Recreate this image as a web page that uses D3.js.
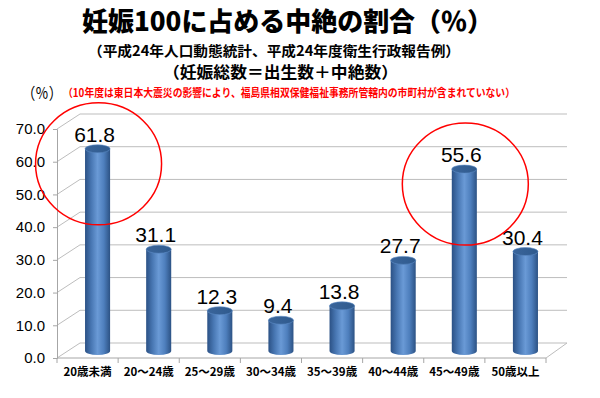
<!DOCTYPE html>
<html>
<head>
<meta charset="utf-8">
<script src="https://cdn.jsdelivr.net/npm/d3@7"></script>
<style>
  body { margin: 0; background: #fff; }
  svg { display: block; }
</style>
</head>
<body>
<div id="chart"></div>
<script>
// data
const categories = ["20歳未満", "20～24歳", "25～29歳", "30～34歳", "35～39歳", "40～44歳", "45～49歳", "50歳以上"];
const values = [61.8, 31.1, 12.3, 9.4, 13.8, 27.7, 55.6, 30.4];
const yTicks = [0, 10, 20, 30, 40, 50, 60, 70];
const circled = ["20歳未満", "45～49歳"];

const width = 600, height = 398;
const depth = { dx: 23, dy: -15 };   // back wall offset
const mid = { dx: 10, dy: -7 };      // where bars stand

const svg = d3.select("#chart").append("svg")
  .attr("width", width).attr("height", height);

const x = d3.scaleBand().domain(categories).range([57, 546]);
const y = d3.scaleLinear().domain([0, 70]).range([358, 129]);

const defs = svg.append("defs");
const g1 = defs.append("linearGradient").attr("id", "body").attr("x1", 0).attr("x2", 1);
[[0, "#2b5185"], [0.25, "#4877b3"], [0.5, "#6a9ad6"], [0.75, "#4e7fbd"], [1, "#2c5284"]]
  .forEach(([o, c]) => g1.append("stop").attr("offset", o).attr("stop-color", c));
const g2 = defs.append("linearGradient").attr("id", "top").attr("x1", 0).attr("x2", 1);
[[0, "#3a659b"], [1, "#2f5a8d"]]
  .forEach(([o, c]) => g2.append("stop").attr("offset", o).attr("stop-color", c));

// back wall gridlines + left wall diagonals
const grid = svg.append("g");
grid.selectAll(".gl").data(yTicks).join("line")
  .attr("x1", 57 + depth.dx).attr("x2", 567)
  .attr("y1", d => y(d) + depth.dy).attr("y2", d => y(d) + depth.dy)
  .attr("stroke", "#bdbdbd").attr("stroke-width", 1);
grid.selectAll(".dg").data(yTicks).join("line")
  .attr("x1", 57).attr("x2", 57 + depth.dx)
  .attr("y1", d => y(d)).attr("y2", d => y(d) + depth.dy)
  .attr("stroke", "#bdbdbd");

// floor front edge and right edge
grid.append("line").attr("x1", 57).attr("x2", 546).attr("y1", y(0)).attr("y2", y(0)).attr("stroke", "#a6a6a6");
grid.append("line").attr("x1", 546).attr("x2", 546 + depth.dx - 2).attr("y1", y(0)).attr("y2", y(0) + depth.dy).attr("stroke", "#bdbdbd");

// front vertical axis
const yAxis = svg.append("g").attr("transform", "translate(57,0)")
  .call(d3.axisLeft(y).tickValues(yTicks).tickSize(4).tickPadding(8).tickFormat(d3.format(".1f")));
yAxis.select(".domain").attr("stroke", "#a6a6a6");
yAxis.selectAll(".tick line").attr("stroke", "#a6a6a6");
yAxis.selectAll("text").attr("font-family", "Liberation Sans, Arial, sans-serif")
  .attr("font-size", 15).attr("fill", "#000");

// category axis
const xAxis = svg.append("g").attr("transform", `translate(0,${y(0)})`)
  .call(d3.axisBottom(x).tickSize(0).tickPadding(10));
xAxis.select(".domain").remove();
xAxis.selectAll("text").attr("font-family", "Noto Sans CJK JP, sans-serif")
  .attr("font-weight", 700).attr("font-size", 11.5).attr("fill", "#000");
svg.append("g").selectAll("line").data(d3.range(categories.length + 1)).join("line")
  .attr("x1", i => 57 + i * x.step()).attr("x2", i => 57 + i * x.step())
  .attr("y1", y(0)).attr("y2", y(0) + 5).attr("stroke", "#a6a6a6");

// cylinders
const bw = x.bandwidth() * 0.41, ry = 4;
const bars = svg.append("g").selectAll("g").data(categories).join("g")
  .attr("transform", d => `translate(${x(d) + x.bandwidth() / 2 + mid.dx},${mid.dy})`);
bars.append("path")
  .attr("d", (d, i) => {
    const top = y(values[i]), bot = y(0), r = bw / 2;
    return `M${-r},${top} L${-r},${bot} A${r},${ry} 0 0 0 ${r},${bot} L${r},${top} Z`;
  })
  .attr("fill", "url(#body)");
bars.append("ellipse")
  .attr("cx", 0).attr("cy", (d, i) => y(values[i]))
  .attr("rx", bw / 2).attr("ry", ry)
  .attr("fill", "url(#top)").attr("stroke", "#5d8cc6").attr("stroke-width", 0.6);

// value labels
bars.append("text")
  .attr("x", -3).attr("y", (d, i) => y(values[i]) - 7)
  .attr("text-anchor", "middle")
  .attr("font-family", "Liberation Sans, Arial, sans-serif")
  .attr("font-size", 21)
  .text((d, i) => values[i].toFixed(1));

// red circles
svg.append("g").selectAll("ellipse").data(circled).join("ellipse")
  .attr("cx", d => x(d) + x.bandwidth() / 2 + mid.dx + 1)
  .attr("cy", d => y(values[categories.indexOf(d)]) + 8)
  .attr("rx", 63).attr("ry", 61)
  .attr("fill", "none").attr("stroke", "#ff0000").attr("stroke-width", 1.5);

// titles
const jp = "Noto Sans CJK JP, sans-serif";
svg.append("text").attr("x", 82).attr("y", 31).attr("font-family", jp).attr("font-weight", 900)
  .attr("font-size", 26).attr("textLength", 411).attr("lengthAdjust", "spacingAndGlyphs")
  .text("妊娠100に占める中絶の割合（％）");
svg.append("text").attr("x", 88).attr("y", 56).attr("font-family", jp).attr("font-weight", 700)
  .attr("font-size", 14).attr("textLength", 372).attr("lengthAdjust", "spacingAndGlyphs")
  .text("（平成24年人口動態統計、平成24年度衛生行政報告例）");
svg.append("text").attr("x", 163).attr("y", 78).attr("font-family", jp).attr("font-weight", 700)
  .attr("font-size", 16).attr("textLength", 235).attr("lengthAdjust", "spacingAndGlyphs")
  .text("（妊娠総数＝出生数＋中絶数）");
svg.append("text").attr("x", 22).attr("y", 99).attr("font-family", jp)
  .attr("font-size", 16).attr("textLength", 40).attr("lengthAdjust", "spacingAndGlyphs")
  .text("（％）");
svg.append("text").attr("x", 63).attr("y", 97).attr("font-family", jp).attr("font-weight", 700)
  .attr("font-size", 11).attr("fill", "#ff0000").attr("textLength", 452).attr("lengthAdjust", "spacingAndGlyphs")
  .text("（10年度は東日本大震災の影響により、福島県相双保健福祉事務所管轄内の市町村が含まれていない）");
</script>
</body>
</html>
